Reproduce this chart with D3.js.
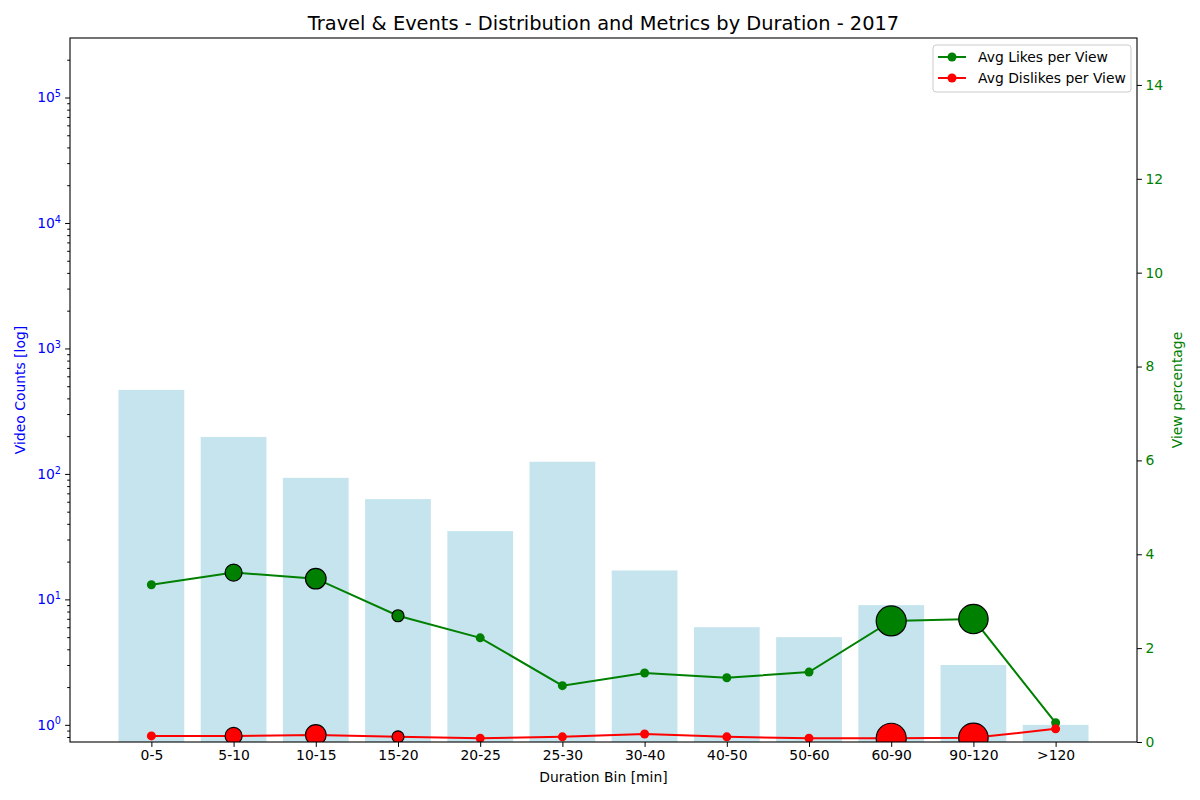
<!DOCTYPE html>
<html>
<head>
<meta charset="utf-8">
<script src="https://cdn.jsdelivr.net/npm/d3@7"></script>
<style>
  body { margin: 0; background: #fff; }
  svg text { font-family: "DejaVu Sans", sans-serif; }
</style>
</head>
<body>
<div id="chart"></div>
<script>
// Data
var bins = ["0-5", "5-10", "10-15", "15-20", "20-25", "25-30", "30-40", "40-50", "50-60", "60-90", "90-120", ">120"];
var videoCounts = [467, 197, 93, 63, 35, 125, 17, 6, 5, 9, 3, 1];
var avgLikes = [3.35, 3.61, 3.48, 2.69, 2.22, 1.20, 1.47, 1.37, 1.49, 2.58, 2.62, 0.41];
var avgDislikes = [0.13, 0.13, 0.15, 0.11, 0.08, 0.11, 0.17, 0.11, 0.08, 0.08, 0.09, 0.28];
var viewShare = [0, 7.2, 10.6, 3.6, 0, 0, 0, 0, 0, 22.5, 21.6, 0];
var rightTicks = [0, 2, 4, 6, 8, 10, 12, 14];
var leftTicks = [1, 10, 100, 1000, 10000, 100000];

var svgWidth = 1200;
var svgHeight = 800;
var margin = { top: 38, right: 63, bottom: 58, left: 70 };
var width = svgWidth - margin.left - margin.right;
var height = svgHeight - margin.top - margin.bottom;

var svg = d3.select("#chart")
  .append("svg")
  .attr("width", svgWidth)
  .attr("height", svgHeight);

var chartGroup = svg.append("g")
  .attr("transform", `translate(${margin.left}, ${margin.top})`);

chartGroup.append("clipPath")
  .attr("id", "plot-clip")
  .append("rect")
  .attr("width", width)
  .attr("height", height);

// scales
var xScale = d3.scaleLinear()
  .domain([-0.99, bins.length - 1 + 0.99])
  .range([0, width]);

var yLeft = d3.scaleLog()
  .domain([0.73, 2.98e5])
  .range([height, 0]);

var yRight = d3.scaleLinear()
  .domain([0, 15])
  .range([height, 0]);

var rScale = d3.scaleSqrt()
  .domain([0, d3.max(viewShare)])
  .range([0, 15]);

var plot = chartGroup.append("g").attr("clip-path", "url(#plot-clip)");

// bars
var barW = xScale(0.8) - xScale(0);
plot.selectAll("rect.bar")
  .data(videoCounts)
  .enter()
  .append("rect")
  .attr("class", "bar")
  .attr("x", (d, i) => xScale(i) - barW / 2)
  .attr("y", d => yLeft(d))
  .attr("width", barW)
  .attr("height", d => height - yLeft(d))
  .attr("fill", "lightblue")
  .attr("opacity", 0.7);

// lines + markers
function drawSeries(values, color) {
  var line = d3.line()
    .x((d, i) => xScale(i))
    .y(d => yRight(d));

  plot.append("path")
    .datum(values)
    .attr("d", line)
    .attr("fill", "none")
    .attr("stroke", color)
    .attr("stroke-width", 2);

  plot.selectAll(null)
    .data(values)
    .enter()
    .append("circle")
    .attr("cx", (d, i) => xScale(i))
    .attr("cy", d => yRight(d))
    .attr("r", 4.5)
    .attr("fill", color);
}

drawSeries(avgLikes, "green");
drawSeries(avgDislikes, "red");

// bubbles sized by view share
function drawBubbles(values, color) {
  plot.selectAll(null)
    .data(values.map((v, i) => ({ v: v, i: i, s: viewShare[i] })).filter(d => d.s > 0))
    .enter()
    .append("circle")
    .attr("cx", d => xScale(d.i))
    .attr("cy", d => yRight(d.v))
    .attr("r", d => rScale(d.s))
    .attr("fill", color)
    .attr("stroke", "black")
    .attr("stroke-width", 1.2);
}

drawBubbles(avgLikes, "green");
drawBubbles(avgDislikes, "red");

// x axis
var bottomAxis = d3.axisBottom(xScale)
  .tickValues(d3.range(bins.length))
  .tickFormat(i => bins[i])
  .tickSize(4.9)
  .tickPadding(3.5);

var xAxis = chartGroup.append("g")
  .attr("transform", `translate(0, ${height})`)
  .call(bottomAxis);
xAxis.select(".domain").remove();
xAxis.selectAll("text").attr("font-size", 13.9).attr("fill", "black");

// left log axis: major + minor ticks
var minorTicks = [];
for (var e = -1; e <= 5; e++) {
  for (var m = 2; m <= 9; m++) {
    var v = m * Math.pow(10, e);
    if (v >= 0.73 && v <= 2.98e5) minorTicks.push(v);
  }
}

var leftMinor = chartGroup.append("g")
  .call(d3.axisLeft(yLeft).tickValues(minorTicks).tickSize(2.8).tickFormat(""));
leftMinor.select(".domain").remove();

var leftAxis = chartGroup.append("g")
  .call(d3.axisLeft(yLeft).tickValues(leftTicks).tickSize(4.9).tickPadding(3.5).tickFormat(""));
leftAxis.select(".domain").remove();

// superscript tick labels
leftAxis.selectAll(".tick").each(function(d) {
  var t = d3.select(this).append("text")
    .attr("x", -9)
    .attr("dy", "0.32em")
    .attr("text-anchor", "end")
    .attr("fill", "blue")
    .attr("font-size", 13.9);
  t.append("tspan").text("10");
  t.append("tspan")
    .attr("font-size", 9.7)
    .attr("dy", "-0.55em")
    .text(Math.round(Math.log10(d)));
});

// right axis
var rightAxis = chartGroup.append("g")
  .attr("transform", `translate(${width}, 0)`)
  .call(d3.axisRight(yRight).tickValues(rightTicks).tickSize(4.9).tickPadding(3.5));
rightAxis.select(".domain").remove();
rightAxis.selectAll("text").attr("font-size", 13.9).attr("fill", "green");

// frame
chartGroup.append("rect")
  .attr("width", width)
  .attr("height", height)
  .attr("fill", "none")
  .attr("stroke", "black")
  .attr("stroke-width", 1.1);

// titles
svg.append("text")
  .attr("x", margin.left + width / 2)
  .attr("y", 30)
  .attr("text-anchor", "middle")
  .attr("font-size", 19.4)
  .text("Travel & Events - Distribution and Metrics by Duration - 2017");

svg.append("text")
  .attr("x", margin.left + width / 2)
  .attr("y", 782)
  .attr("text-anchor", "middle")
  .attr("font-size", 13.9)
  .text("Duration Bin [min]");

svg.append("text")
  .attr("transform", `translate(25, ${margin.top + height / 2}) rotate(-90)`)
  .attr("text-anchor", "middle")
  .attr("font-size", 13.9)
  .attr("fill", "blue")
  .text("Video Counts [log]");

svg.append("text")
  .attr("transform", `translate(1182, ${margin.top + height / 2}) rotate(-90)`)
  .attr("text-anchor", "middle")
  .attr("font-size", 13.9)
  .attr("fill", "green")
  .text("View percentage");

// legend
var legendItems = [
  { label: "Avg Likes per View", color: "green" },
  { label: "Avg Dislikes per View", color: "red" }
];

var legend = svg.append("g").attr("transform", "translate(933, 45)");
legend.append("rect")
  .attr("width", 198)
  .attr("height", 47)
  .attr("rx", 3)
  .attr("fill", "white")
  .attr("fill-opacity", 0.8)
  .attr("stroke", "#cccccc");

var rows = legend.selectAll("g.row")
  .data(legendItems)
  .enter()
  .append("g")
  .attr("transform", (d, i) => `translate(0, ${12 + i * 21})`);

rows.append("line")
  .attr("x1", 5).attr("x2", 33)
  .attr("stroke", d => d.color)
  .attr("stroke-width", 2);
rows.append("circle")
  .attr("cx", 19)
  .attr("r", 4.5)
  .attr("fill", d => d.color);
rows.append("text")
  .attr("x", 45)
  .attr("dy", "0.35em")
  .attr("font-size", 13.9)
  .text(d => d.label);
</script>
</body>
</html>
